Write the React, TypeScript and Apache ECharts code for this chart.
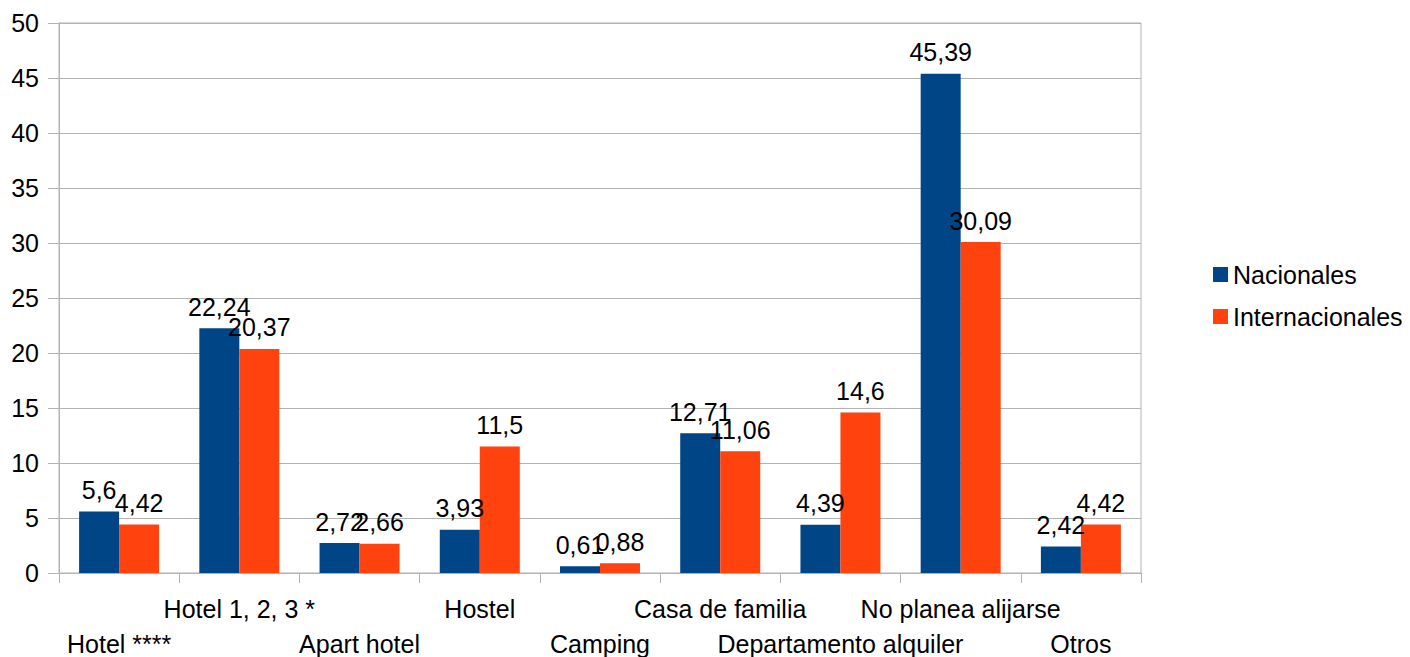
import React, { useEffect, useRef } from "react";
import * as echarts from "echarts";

const categories = [
  "Hotel ****",
  "Hotel 1, 2, 3 *",
  "Apart hotel",
  "Hostel",
  "Camping",
  "Casa de familia",
  "Departamento alquiler",
  "No planea alijarse",
  "Otros",
];
const nacionales = [5.6, 22.24, 2.72, 3.93, 0.61, 12.71, 4.39, 45.39, 2.42];
const internacionales = [4.42, 20.37, 2.66, 11.5, 0.88, 11.06, 14.6, 30.09, 4.42];

const FONT = "'Liberation Sans', Arial, sans-serif";
const GRAY = "#b3b3b3";
const FS = 25;

export default function App() {
  const ref = useRef<HTMLDivElement>(null);
  useEffect(() => {
    if (!ref.current) return;
    const chart = echarts.init(ref.current, undefined, { renderer: "svg" });
    const labelFmt = (p: any) => String(p.value).replace(".", ",");
    chart.setOption({
      animation: false,
      textStyle: { fontFamily: FONT },
      grid: {
        left: 59,
        right: 269,
        top: 23,
        bottom: 84,
        outerBoundsMode: "none",
        containLabel: false,
        show: true,
        borderColor: GRAY,
        borderWidth: 1,
        backgroundColor: "transparent",
      },
      legend: {
        orient: "vertical",
        left: 1208,
        top: 257,
        itemWidth: 15,
        itemHeight: 15,
        itemGap: 17,
        icon: "rect",
        textStyle: {
          fontSize: FS,
          color: "#000",
          fontFamily: FONT,
          lineHeight: 25,
        },
        data: ["Nacionales", "Internacionales"],
      },
      xAxis: {
        type: "category",
        data: categories,
        axisLine: { lineStyle: { color: GRAY } },
        axisTick: { show: true, length: 10, lineStyle: { color: GRAY } },
        axisLabel: {
          interval: 0,
          color: "#000",
          fontSize: FS,
          fontFamily: FONT,
          lineHeight: 35,
          margin: 18,
          formatter: (v: string, i: number) => (i % 2 === 0 ? "\n" + v : v),
        },
        splitLine: { show: false },
      },
      yAxis: {
        type: "value",
        min: 0,
        max: 50,
        interval: 5,
        axisLine: { show: true, lineStyle: { color: GRAY } },
        axisTick: { show: true, length: 11, lineStyle: { color: GRAY } },
        axisLabel: { color: "#000", fontSize: FS, fontFamily: FONT, margin: 20 },
        splitLine: { show: true, lineStyle: { color: GRAY, width: 1 } },
      },
      series: [
        {
          name: "Nacionales",
          type: "bar",
          data: nacionales,
          barWidth: 40,
          barGap: "0%",
          itemStyle: { color: "#004586" },
          label: {
            show: true,
            position: "top",
            distance: 9,
            color: "#000",
            fontSize: FS,
            fontFamily: FONT,
            formatter: labelFmt,
          },
        },
        {
          name: "Internacionales",
          type: "bar",
          data: internacionales,
          barWidth: 40,
          barGap: "0%",
          itemStyle: { color: "#ff420e" },
          label: {
            show: true,
            position: "top",
            distance: 9,
            color: "#000",
            fontSize: FS,
            fontFamily: FONT,
            formatter: labelFmt,
          },
        },
      ],
    });
    return () => chart.dispose();
  }, []);
  return <div ref={ref} style={{ width: 1410, height: 657, position: "absolute", left: 0, top: 0 }} />;
}
